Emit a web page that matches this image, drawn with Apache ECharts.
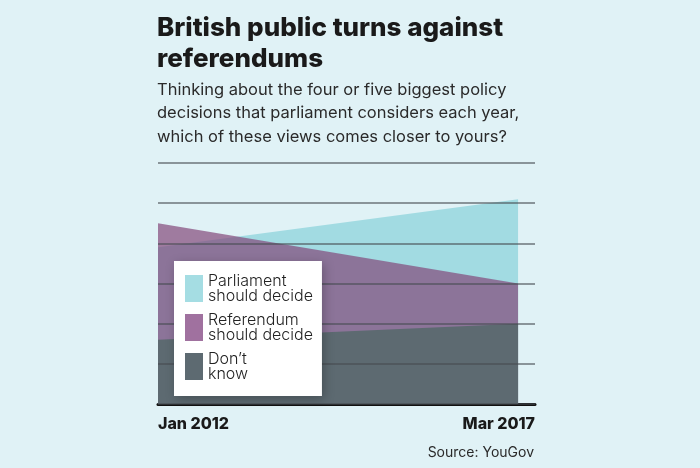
<!DOCTYPE html>
<html>
<head>
<meta charset="utf-8">
<script src="https://cdn.jsdelivr.net/npm/echarts@6/dist/echarts.min.js"></script>
<style>
html,body{margin:0;padding:0;background:#e0f2f6;}
#c{width:700px;height:468px;}
</style>
</head>
<body>
<div id="c"></div>
<script>
var categories = ['Jan 2012', 'Mar 2017'];
var seriesNames = ['Parliament should decide', 'Referendum should decide', 'Don\u2019t know'];
var parliament = [39, 51];
var referendum = [45, 30];
var dontKnow = [16, 20];
var yTicks = [0, 10, 20, 30, 40, 50, 60];

function pts(arr){ return arr.map(function(v,i){ return [i, v]; }); }
var XMAX = 1.047;
var font = 'Inter, "Noto Sans", sans-serif';

var chart = echarts.init(document.getElementById('c'));
chart.setOption({
  backgroundColor: '#e0f2f6',
  animation: false,
  title: {
    text: 'British public turns against\nreferendums',
    subtext: 'Thinking about the four or five biggest policy\ndecisions that parliament considers each year,\nwhich of these views comes closer to yours?',
    left: 152, top: 8, itemGap: 3,
    textStyle: {fontFamily: font, fontSize: 26, fontWeight: 800, color: '#1a1a1a', lineHeight: 31},
    subtextStyle: {fontFamily: font, fontSize: 16.5, fontWeight: 400, color: '#2a2a2a', lineHeight: 23.5}
  },
  grid: {left: 158, right: 165, top: 163, bottom: 64},
  legend: {
    orient: 'vertical', left: 174, top: 261,
    backgroundColor: '#ffffff',
    padding: [12, 9, 14, 11],
    itemWidth: 18, itemHeight: 27, itemGap: 8,
    shadowBlur: 10, shadowColor: 'rgba(0,0,0,0.25)', shadowOffsetX: 2, shadowOffsetY: 3,
    textStyle: {fontFamily: font, fontSize: 16, fontWeight: 300, color: '#222', lineHeight: 15},
    formatter: function(n){ return n.replace(' should', '\nshould').replace(' know', '\nknow'); },
    data: [
      {name: seriesNames[0], icon: 'rect', itemStyle: {color: '#a5dde3'}},
      {name: seriesNames[1], icon: 'rect', itemStyle: {color: '#a0719f'}},
      {name: seriesNames[2], icon: 'rect', itemStyle: {color: '#5d6a71'}}
    ]
  },
  xAxis: {
    type: 'value', min: 0, max: XMAX, interval: XMAX,
    axisLine: {show: true, lineStyle: {color: '#111', width: 3}},
    axisTick: {show: false}, splitLine: {show: false},
    axisLabel: {
      margin: 12, fontFamily: font, fontSize: 16, fontWeight: 800, color: '#1a1a1a',
      alignMinLabel: 'left', alignMaxLabel: 'right',
      formatter: function(v){ return v < XMAX / 2 ? categories[0] : categories[1]; }
    }
  },
  yAxis: {
    type: 'value', min: yTicks[0], max: yTicks[yTicks.length-1], interval: 10, z: 3,
    axisLine: {show: false}, axisTick: {show: false}, axisLabel: {show: false},
    splitLine: {lineStyle: {color: 'rgba(70,76,82,0.75)', width: 1.5}}
  },
  graphic: [{
    type: 'text', right: 166, top: 446,
    style: {text: 'Source: YouGov', fontFamily: font, fontSize: 14, fill: '#2a2a2a', textAlign: 'right'}
  }],
  series: [
    {name: seriesNames[0], type: 'line', data: pts(parliament), symbol: 'none', z: 1,
     lineStyle: {width: 0}, itemStyle: {color: '#a2dbe2'}, areaStyle: {color: '#a2dbe2', opacity: 1}},
    {name: seriesNames[1], type: 'line', data: pts(referendum), symbol: 'none', z: 2,
     lineStyle: {width: 0}, itemStyle: {color: '#a0719f'}, areaStyle: {color: 'rgb(131,72,122)', opacity: 0.7}},
    {name: seriesNames[2], type: 'line', data: pts(dontKnow), symbol: 'none', z: 2,
     lineStyle: {width: 0}, itemStyle: {color: '#5d6a71'}, areaStyle: {color: '#5d6a71', opacity: 1}}
  ]
});
</script>
</body>
</html>
